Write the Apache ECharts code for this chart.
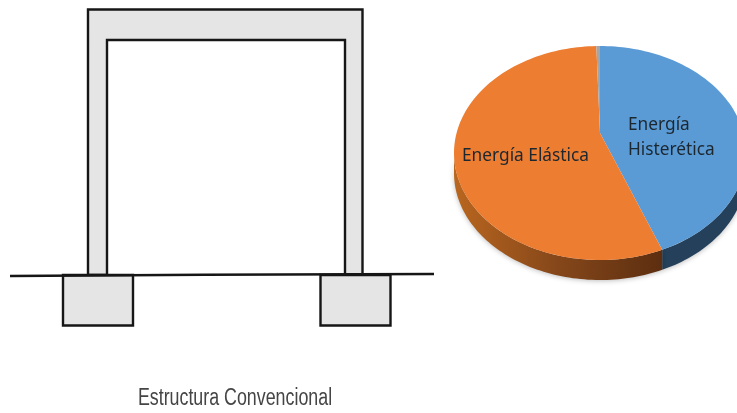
<!DOCTYPE html>
<html>
<head>
<meta charset="utf-8">
<style>html,body{margin:0;padding:0;background:#fff}#chart{width:737px;height:413px}</style>
<script src="https://cdn.jsdelivr.net/npm/echarts@6/dist/echarts.min.js"></script>
</head>
<body>
<div id="chart"></div>
<script>
// Energy shares, clockwise from twelve o'clock
const sliceNames = ['Energía\nHisterética', 'Energía Elástica', ''];
const sliceValues = [43, 56.6, 0.4];
const sliceColors = ['#5b9bd5', '#ed7d31', '#a5a5a5'];
const captionText = 'Estructura Convencional';

const total = sliceValues.reduce((a, b) => a + b, 0);
const pie = { cx: 600, cy: 153, rx: 146, ry: 107, apexX: 600, apexY: 133, depth: 20 };

function rimPoint(deg, drop) {
  const t = deg * Math.PI / 180;
  return [pie.cx + pie.rx * Math.sin(t), pie.cy - pie.ry * Math.cos(t) + (drop || 0)];
}
function arc(from, to, drop) {
  const pts = [];
  const n = Math.max(2, Math.ceil(Math.abs(to - from) / 1.5));
  for (let i = 0; i <= n; i++) pts.push(rimPoint(from + (to - from) * i / n, drop));
  return pts;
}
function sideFill(index) {
  if (index === 0) return '#24405a';
  return new echarts.graphic.LinearGradient(0, 0, 1, 0, [
    { offset: 0, color: '#b9661f' },
    { offset: 0.5, color: '#85471a' },
    { offset: 1, color: '#5c2e10' }
  ]);
}
const labelSpots = [
  { x: 628, y: 138, lineHeight: 25 },
  { x: 462, y: 156, lineHeight: 20 }
];

function renderSlice(params, api) {
  const i = params.dataIndex;
  let before = 0;
  for (let k = 0; k < i; k++) before += sliceValues[k];
  const start = before / total * 360;
  const end = start + api.value(0) / total * 360;
  const children = [];

  // Wall of the disc: only the part of the rim facing the viewer
  const a = Math.max(start, 90), b = Math.min(end, 270);
  if (b > a) {
    children.push({
      type: 'polygon',
      shape: { points: arc(a, b, 0).concat(arc(b, a, pie.depth)) },
      style: { fill: sideFill(i), shadowBlur: 5, shadowColor: 'rgba(0,0,0,0.25)', shadowOffsetY: 1 }
    });
  }
  // Top face
  children.push({
    type: 'polygon',
    shape: { points: [[pie.apexX, pie.apexY]].concat(arc(start, end, 0)) },
    style: { fill: sliceColors[i] }
  });
  if (labelSpots[i]) {
    children.push({
      type: 'text',
      style: {
        x: labelSpots[i].x, y: labelSpots[i].y,
        text: sliceNames[i],
        fill: '#1c2730',
        font: '17.3px "Noto Sans"',
        lineHeight: labelSpots[i].lineHeight,
        align: 'left', verticalAlign: 'middle'
      }
    });
  }
  return { type: 'group', children };
}

// Portal frame with its footings and the ground line
const steel = '#161616', concrete = '#e6e5e6';
const frameShapes = [
  { type: 'polygon', shape: { points: [[88, 275], [88, 9.5], [362.5, 9.5], [362.5, 275], [345, 275], [345, 40], [107, 40], [107, 275]] },
    style: { fill: concrete, stroke: steel, lineWidth: 2.4 } },
  { type: 'rect', shape: { x: 63, y: 275, width: 70, height: 50.5 },
    style: { fill: concrete, stroke: steel, lineWidth: 2.4 } },
  { type: 'rect', shape: { x: 320.5, y: 275, width: 70, height: 50.5 },
    style: { fill: concrete, stroke: steel, lineWidth: 2.4 } },
  { type: 'polyline', shape: { points: [[10, 276], [204, 274.8], [434, 274]] },
    style: { stroke: steel, lineWidth: 2.6, fill: null } },
  // Condensed caption: the wide face is squeezed horizontally about its centre
  { type: 'text', x: 235, y: 399, scaleX: 0.775,
    style: { x: 0, y: 0, text: captionText, fill: '#454545',
      font: '23px "Liberation Sans"', align: 'center', verticalAlign: 'middle' } }
];

const chart = echarts.init(document.getElementById('chart'), null, { renderer: 'canvas' });
chart.setOption({
  animation: false,
  backgroundColor: '#ffffff',
  graphic: { elements: frameShapes },
  series: [{
    type: 'custom',
    coordinateSystem: 'none',
    renderItem: renderSlice,
    data: sliceValues.map((v, i) => ({ value: [v], name: sliceNames[i] }))
  }]
});
</script>
</body>
</html>
